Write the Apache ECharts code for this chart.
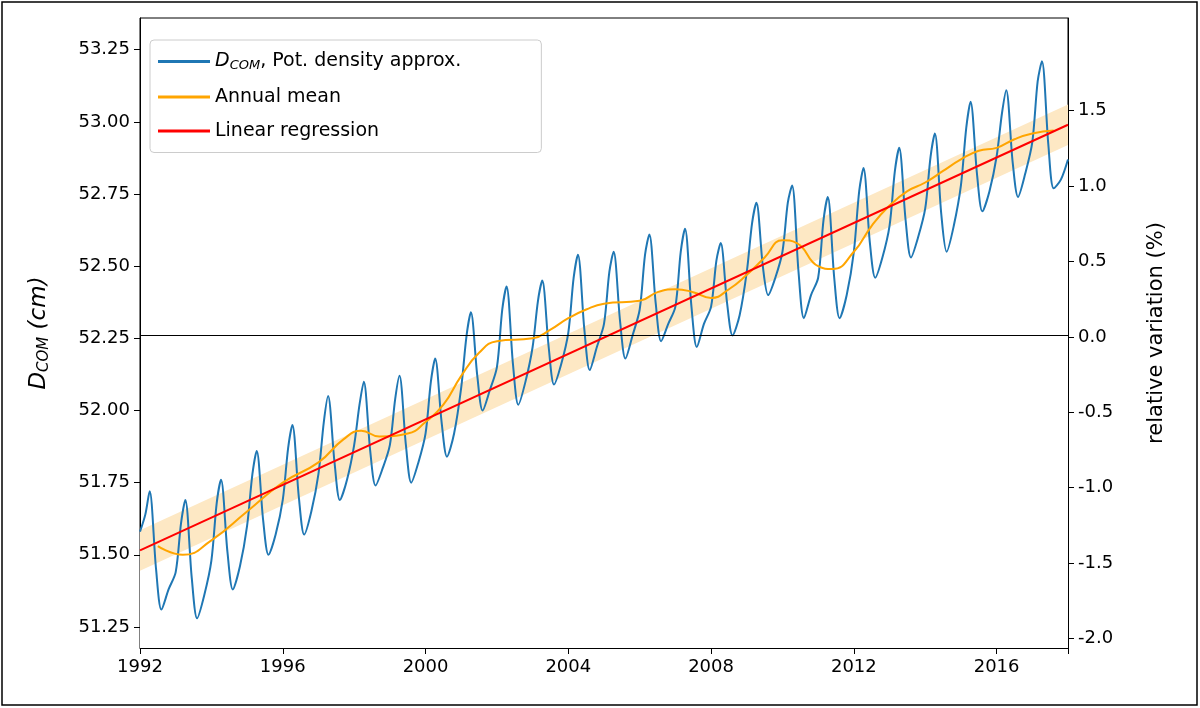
<!DOCTYPE html>
<html><head><meta charset="utf-8">
<script src="https://cdn.jsdelivr.net/npm/echarts@6/dist/echarts.min.js"></script>
<style>html,body{margin:0;padding:0;background:#fff}#c{width:1200px;height:708px}</style>
</head><body><div id="c"></div>
<script>
const years=[1992,1993,1994,1995,1996,1997,1998,1999,2000,2001,2002,2003,2004,2005,2006,2007,2008,2009,2010,2011,2012,2013,2014,2015,2016,2017];
const phase=[0,0.15,0.27,0.45,0.6,0.8];
const dcom=[
[51.58,51.64,51.72,51.45,51.31,51.38],
[51.44,51.61,51.69,51.42,51.28,51.36],
[51.48,51.68,51.76,51.51,51.38,51.46],
[51.60,51.78,51.86,51.62,51.50,51.57],
[51.69,51.87,51.95,51.70,51.57,51.65],
[51.78,51.96,52.05,51.82,51.69,51.76],
[51.88,52.02,52.10,51.86,51.74,51.80],
[51.88,52.04,52.12,51.88,51.75,51.82],
[51.92,52.10,52.18,51.96,51.84,51.92],
[52.08,52.26,52.34,52.12,52.00,52.07],
[52.15,52.35,52.43,52.16,52.02,52.10],
[52.22,52.38,52.45,52.22,52.09,52.16],
[52.27,52.46,52.54,52.28,52.14,52.22],
[52.30,52.48,52.55,52.31,52.18,52.26],
[52.35,52.54,52.61,52.37,52.24,52.30],
[52.36,52.55,52.63,52.36,52.22,52.30],
[52.36,52.52,52.58,52.37,52.26,52.33],
[52.48,52.65,52.72,52.50,52.40,52.46],
[52.55,52.72,52.78,52.48,52.32,52.40],
[52.46,52.66,52.74,52.46,52.32,52.40],
[52.55,52.76,52.84,52.58,52.46,52.53],
[52.64,52.83,52.91,52.66,52.53,52.60],
[52.70,52.88,52.96,52.68,52.55,52.64],
[52.78,52.98,53.07,52.82,52.69,52.76],
[52.88,53.03,53.11,52.86,52.74,52.82],
[52.93,53.14,53.21,52.92,52.77,52.80]];
const dcomEnd=[2018,52.87];
const meanX=[1992.5,1993.2,1994,1995,1996,1997,1997.7,1998.2,1998.7,1999.5,2000,2000.5,2001,2001.5,2002,2003,2003.5,2004,2004.5,2005,2006,2006.5,2007,2007.5,2008,2008.5,2009,2009.5,2010,2010.4,2011,2011.4,2012,2012.5,2013,2013.5,2014,2014.5,2015,2015.5,2016,2016.5,2017,2017.6];
const meanY=[51.53,51.50,51.55,51.65,51.75,51.82,51.90,51.93,51.91,51.92,51.96,52.02,52.12,52.20,52.24,52.25,52.28,52.32,52.35,52.37,52.38,52.41,52.42,52.41,52.39,52.42,52.47,52.53,52.59,52.58,52.50,52.49,52.55,52.64,52.71,52.76,52.79,52.83,52.87,52.90,52.91,52.94,52.96,52.97];
const regX=[1992,2018];
const regY=[51.515,52.99];
const bandHalf=0.07;
const refLevel=52.255;
const leftTicks=[51.25,51.5,51.75,52.0,52.25,52.5,52.75,53.0,53.25];
const rightTicks=[-2.0,-1.5,-1.0,-0.5,0.0,0.5,1.0,1.5];

const yMin=51.177,yMax=53.36;
const rel=v=>(v-refLevel)/refLevel*100;
const blue=[];
years.forEach((y,i)=>phase.forEach((p,j)=>blue.push([y+p,dcom[i][j]])));
blue.push(dcomEnd);
const font='DejaVu Sans';
const chart=echarts.init(document.getElementById('c'));
chart.setOption({
animation:false,
textStyle:{fontFamily:font},
graphic:[{type:'rect',shape:{x:2,y:2,width:1195,height:703},style:{fill:'none',stroke:'#000',lineWidth:1.5}}],
grid:{left:140,right:132,top:18,bottom:60,show:true,borderColor:'#000',borderWidth:1},
legend:{left:150,top:40,orient:'vertical',itemWidth:52,itemHeight:3,itemGap:15,padding:[12,80,12,8],
 borderColor:'#ccc',borderWidth:1,borderRadius:4,backgroundColor:'#fff',
 textStyle:{fontSize:19,color:'#000',rich:{i:{fontStyle:'italic',fontSize:19},s:{fontStyle:'italic',fontSize:13,padding:[9,0,0,0]},n:{fontSize:19}}},
 formatter:n=>n==='dcom'?'{i|D}{s|COM}{n|, Pot. density approx.}':n,
 data:[{name:'dcom',icon:'rect'},{name:'Annual mean',icon:'rect'},{name:'Linear regression',icon:'rect'}]},
xAxis:{type:'value',min:1992,max:2018,interval:4,axisLine:{onZero:false,lineStyle:{color:'#000'}},
 axisTick:{length:6,lineStyle:{color:'#000'}},splitLine:{show:false},
 axisLabel:{color:'#000',fontSize:18,margin:10,formatter:v=>v>=2018?'':String(v)}},
yAxis:[{type:'value',min:yMin,max:yMax,axisLine:{show:true,onZero:false,lineStyle:{color:'#000'}},
 axisTick:{show:true,length:6,customValues:leftTicks,lineStyle:{color:'#000'}},splitLine:{show:false},
 axisLabel:{color:'#000',fontSize:18,margin:10,customValues:leftTicks,formatter:v=>v.toFixed(2)},
 name:'{i|D}{s|COM}{n| (cm)}',nameLocation:'middle',nameGap:88,
 nameTextStyle:{rich:{i:{fontStyle:'italic',fontSize:23},s:{fontStyle:'italic',fontSize:15,padding:[11,0,0,0]},n:{fontStyle:'italic',fontSize:23}}}},
 {type:'value',position:'right',min:rel(yMin),max:rel(yMax),axisLine:{show:true,onZero:false,lineStyle:{color:'#000'}},
 axisTick:{show:true,length:6,customValues:rightTicks,lineStyle:{color:'#000'}},splitLine:{show:false},
 axisLabel:{color:'#000',fontSize:18,margin:10,customValues:rightTicks,formatter:v=>v.toFixed(1)},
 name:'relative variation (%)',nameLocation:'middle',nameGap:78,nameTextStyle:{fontSize:21,color:'#000'}}],
series:[
{name:'bandHigh',type:'line',symbol:'none',data:regX.map((x,i)=>[x,regY[i]+bandHalf]),lineStyle:{opacity:0},areaStyle:{color:'#fde8c4',opacity:1,origin:'start'},silent:true},
{name:'bandLow',type:'line',symbol:'none',data:regX.map((x,i)=>[x,regY[i]-bandHalf]),lineStyle:{opacity:0},areaStyle:{color:'#ffffff',opacity:1,origin:'start'},silent:true},
{name:'dcom',type:'line',symbol:'none',smooth:0.3,data:blue,color:'#1f77b4',lineStyle:{width:2,color:'#1f77b4'},
 markLine:{silent:true,symbol:'none',label:{show:false},lineStyle:{color:'#000',width:1,type:'solid'},data:[{yAxis:refLevel}]}},
{name:'Annual mean',type:'line',symbol:'none',smooth:true,data:meanX.map((x,i)=>[x,meanY[i]]),color:'#ffa500',lineStyle:{width:2,color:'#ffa500'}},
{name:'Linear regression',type:'line',symbol:'none',data:regX.map((x,i)=>[x,regY[i]]),color:'#ff0000',lineStyle:{width:2,color:'#ff0000'}}
]});
</script></body></html>
